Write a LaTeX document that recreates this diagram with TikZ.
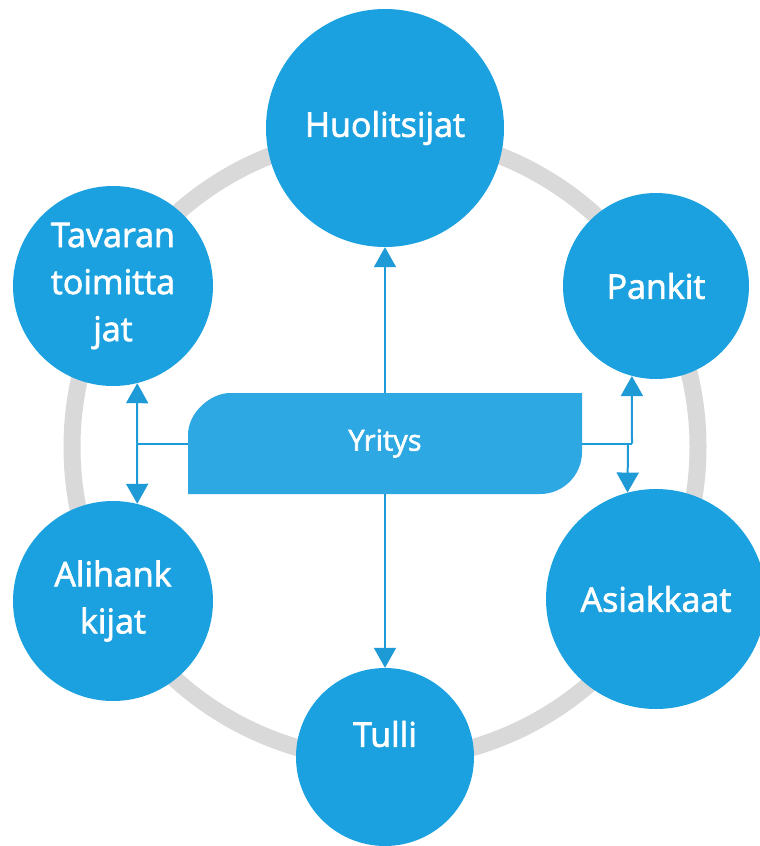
\documentclass[tikz,border=0pt]{standalone}
\usepackage{fontspec}
\setmainfont{Open Sans}
\newfontfamily\semib{Open Sans}[FakeBold=2]
\usetikzlibrary{arrows.meta}
\definecolor{circblue}{HTML}{1BA1DF}
\definecolor{boxblue}{HTML}{2EA8E3}
\definecolor{linkblue}{HTML}{1E9AD6}
\definecolor{ringgray}{HTML}{D9D9D9}
\begin{document}
\begin{tikzpicture}[x=1pt,y=-1pt,
  bub/.style={circle,fill=circblue,text=white,inner sep=0pt,align=center,
    font=\semib\fontsize{34}{47}\selectfont},
  bubtext/.style={text=white,inner sep=0pt,align=center,font=\semib\fontsize{34}{47}\selectfont},
  link/.style={draw=linkblue,line width=2pt},
  tip/.style={-{Triangle[width=22pt,length=20pt]}}]
\useasboundingbox (0,0) rectangle (760,846);
% ring
\draw[ringgray,line width=17pt] (385,447) circle[radius=313];
% circles
\node[bub,minimum size=238pt] (huo) at (385,128) {Huolitsijat};
\node[bub,minimum size=200pt] (tav) at (113,286) {Tavaran\\toimitta\\jat};
\node[bub,minimum size=186pt] (pan) at (656,286) {Pankit};
\node[bub,minimum size=200pt] (ali) at (113,601) {Alihank\\kijat};
\node[bub,minimum size=220pt] (asi) at (656,599) {Asiakkaat};
\node[bub,minimum size=178pt] (tul) at (385,757) {};
\node[bubtext] (tult) at (385,734) {Tulli};
% central shape
\fill[boxblue] (188,494) -- (188,435) .. controls (188,411.8) and (211.2,393) .. (230,393)
  -- (582,393) -- (582,452) .. controls (582,475.2) and (563.2,494) .. (540,494) -- cycle;
\node[rectangle,minimum width=394pt,minimum height=101pt,inner sep=0pt,text=white,
  font=\semib\fontsize{29}{34}\selectfont] (yr) at (385,443.5) {Yritys};
% connectors
\draw[link,tip] (yr.north) -- (huo.south);
\draw[link,tip] (yr.south) -- (tul.north);
\coordinate (jl) at (137,443.5);
\draw[link] (yr.west) -- (jl);
\draw[link,tip] (jl) -- (tav.-76);
\draw[link,tip] (jl) -- (ali.76);
\coordinate (jr1) at (632,443.5);
\coordinate (jr2) at (628,443.5);
\draw[link] (yr.east) -- (jr1);
\draw[link,tip] (jr1) -- (pan.-105);
\draw[link,tip] (jr2) -- (asi.105);
\end{tikzpicture}
\end{document}
